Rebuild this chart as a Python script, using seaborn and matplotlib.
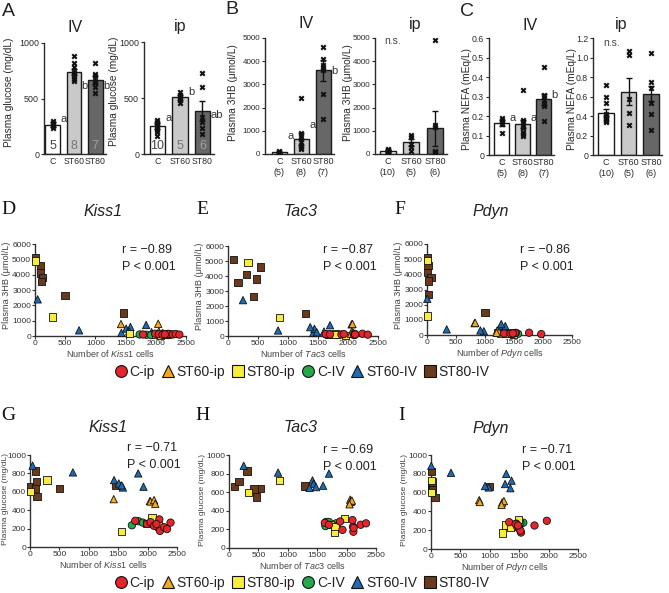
import matplotlib
matplotlib.use('Agg')
import matplotlib.pyplot as plt
from matplotlib.lines import Line2D
import seaborn as sns
import pandas as pd

# ---------------- top row: bar data ----------------
groups = ['C', 'ST60', 'ST80']

glu_iv_mean = [265, 740, 665]
glu_iv_sem = [20, 30, 35]
glu_iv_pts = [[235, 250, 265, 280, 295],
              [880, 820, 780, 740, 720, 700, 680, 660],
              [820, 720, 700, 660, 640, 600, 550]]
glu_ip_mean = [250, 505, 385]
glu_ip_sem = [25, 20, 90]
glu_ip_pts = [[300, 290, 280, 270, 255, 245, 230, 215, 200, 160],
              [550, 530, 505, 480, 455],
              [720, 600, 330, 290, 230, 180]]

hb_iv_mean = [80, 650, 3600]
hb_iv_sem = [20, 250, 450]
hb_iv_pts = [[130, 100, 80, 60, 40],
             [2400, 900, 750, 650, 500, 350, 250, 200],
             [4600, 4080, 3850, 3750, 3600, 2600, 1500]]
hb_ip_mean = [130, 500, 1100]
hb_ip_sem = [40, 150, 770]
hb_ip_pts = [[200, 180, 160, 150, 130, 110, 100, 80, 70, 50],
             [800, 750, 450, 300, 150],
             [4900, 1250, 1150, 150, 100, 50]]

nefa_iv_mean = [0.165, 0.16, 0.285]
nefa_iv_sem = [0.015, 0.02, 0.03]
nefa_iv_pts = [[0.19, 0.18, 0.17, 0.16, 0.115],
               [0.335, 0.18, 0.17, 0.15, 0.14, 0.12, 0.11, 0.10],
               [0.45, 0.31, 0.30, 0.28, 0.26, 0.25, 0.175]]
nefa_ip_mean = [0.435, 0.65, 0.63]
nefa_ip_sem = [0.04, 0.14, 0.08]
nefa_ip_pts = [[0.72, 0.60, 0.53, 0.42, 0.40, 0.38, 0.37, 0.36, 0.35, 0.34],
               [1.07, 1.03, 0.57, 0.43, 0.31],
               [1.05, 0.75, 0.69, 0.53, 0.42, 0.26]]

n_iv = ['5', '8', '7']
n_ip = ['10', '5', '6']

# ---------------- scatter data, one value per animal ----------------
cip_kiss1 = [1790, 1990, 2050, 2110, 2200, 2210, 2280, 2330, 2390, 2150]
cip_tac3 = [1890, 2240, 1630, 2110, 2100, 2115, 2120, 1930, 2330, 1700]
cip_pdyn = [1330, 1760, 1450, 1470, 1970, 1530, 1500, 1520, 1440, 1480]
cip_hb = [100, 150, 120, 80, 60, 140, 100, 130, 90, 110]
cip_glu = [285, 250, 270, 230, 300, 175, 215, 195, 265, 250]

st60ip_kiss1 = [1424, 2040, 2050, 2110, 2130]
st60ip_tac3 = [2060, 2075, 2065, 2090, 2050]
st60ip_pdyn = [820, 830, 1210, 1240, 1200]
st60ip_hb = [780, 800, 300, 200, 150]
st60ip_glu = [520, 500, 495, 510, 470]

st80ip_kiss1 = [6, 290, 1560, 1990, 2073, 2187]
st80ip_tac3 = [335, 854, 1790, 1727, 1960, 1801]
st80ip_pdyn = [5, 5, 1220, 1275, 1486, 1350]
st80ip_hb = [4900, 1250, 150, 80, 50, 120]
st80ip_glu = [600, 727, 171, 255, 316, 229]

civ_kiss1 = [1733, 1846, 1920, 2113, 2158]
civ_tac3 = [1640, 1650, 1820, 1830, 1700]
civ_pdyn = [1480, 1570, 1450, 1500, 1520]
civ_hb = [100, 80, 60, 90, 120]
civ_glu = [236, 280, 265, 236, 280]

st60iv_kiss1 = [44, 730, 1430, 1510, 1580, 1840, 1930, 1560]
st60iv_tac3 = [250, 835, 1420, 1440, 1370, 1700, 1480, 1600]
st60iv_pdyn = [5, 340, 1370, 1260, 1350, 1280, 980, 920]
st60iv_hb = [2390, 370, 200, 480, 590, 720, 250, 300]
st60iv_glu = [884, 811, 727, 691, 647, 800, 655, 670]

st80iv_kiss1 = [11, 94, 94, 120, 111, 498, 1460]
st80iv_tac3 = [90, 540, 305, 470, 168, 425, 1295]
st80iv_pdyn = [10, 15, 10, 70, 30, 25, 1000]
st80iv_hb = [5100, 4600, 4100, 3800, 3550, 2650, 1490]
st80iv_glu = [658, 640, 827, 548, 712, 633, 668]

group_names = ['C-ip', 'ST60-ip', 'ST80-ip', 'C-IV', 'ST60-IV', 'ST80-IV']
group_colors = ['#e8242b', '#f4a81d', '#f6ee3b', '#23a94a', '#1c6cb5', '#6a3a1e']
group_markers = ['o', '^', 's', 'o', '^', 's']

r_hb = ['\u22120.89', '\u22120.87', '\u22120.86']
r_glu = ['\u22120.71', '\u22120.69', '\u22120.71']
genes = ['Kiss1', 'Tac3', 'Pdyn']

sns.set_style('ticks')
plt.rcParams['font.family'] = ['Liberation Sans', 'DejaVu Sans']
plt.rcParams['mathtext.fontset'] = 'custom'
plt.rcParams['mathtext.it'] = 'Liberation Sans:italic'
plt.rcParams['mathtext.rm'] = 'Liberation Sans'

W, H = 669, 593
fig = plt.figure(figsize=(W / 100, H / 100), dpi=100)
INK = '#2a2a2a'


def px_axes(x0, x1, y0, y1):
    return fig.add_axes([x0 / W, 1 - y1 / H, (x1 - x0) / W, (y1 - y0) / H])


def ftext(x, y, s, **kw):
    return fig.text(x / W, 1 - y / H, s, **kw)


def place_ylabel(ax, box, right_px, fy):
    x0, x1 = box[0], box[1]
    ax.yaxis.set_label_coords((right_px - x0) / (x1 - x0), fy)


def bar_panel(box, xleft, means, sems, pts, top, yticks, ylabels, ylabel, lab_x, lab_y,
              xlabels, letters, letter_y, counts=None, ns=None, yfs=7, tfs=6.5):
    ax = px_axes(*box)
    sns.barplot(x=groups, y=means, hue=groups, palette=['white', '#c9c9c9', '#676767'],
                legend=False, width=0.68, edgecolor='#1a1a1a', linewidth=1,
                errorbar=None, ax=ax, zorder=2)
    ax.errorbar(range(3), means, yerr=sems, fmt='none', ecolor='#111',
                elinewidth=1, capsize=2, capthick=1, zorder=3)
    long = pd.DataFrame({'grp': [g for g, v in zip(groups, pts) for _ in v],
                         'val': [x for v in pts for x in v]})
    sns.stripplot(data=long, x='grp', y='val', order=groups, jitter=False,
                  marker='X', color='#111', size=4.3, linewidth=0, ax=ax, zorder=4)
    ax.set_xlim(xleft, 2.5)
    ax.set_ylim(0, top)
    ax.set_yticks(yticks)
    ax.set_yticklabels(ylabels)
    ax.set_xticks(range(3))
    ax.set_xticklabels(xlabels, linespacing=1.15)
    ax.set_xlabel('')
    ax.set_ylabel(ylabel, fontsize=7.3, color=INK)
    place_ylabel(ax, box, lab_x, lab_y)
    ax.tick_params(axis='y', length=2.5, width=0.8, pad=1, labelsize=yfs, colors=INK)
    ax.tick_params(axis='x', length=0, pad=2.5, labelsize=tfs, colors=INK)
    sns.despine(ax=ax)
    for s in ['left', 'bottom']:
        ax.spines[s].set_linewidth(1)
        ax.spines[s].set_color(INK)
    for i, (lt, ly) in enumerate(zip(letters, letter_y)):
        ax.text(i + 0.36, ly, lt, fontsize=8, color='#333', ha='left', va='center')
    if counts:
        for i, (c, col) in enumerate(zip(counts, ['#444', '#777', '#a0a0a0'])):
            ax.text(i, top * 0.015, c, ha='center', va='bottom', fontsize=9, color=col)
    if ns:
        ax.text(ns[0], ns[1], 'n.s.', ha='center', va='center', fontsize=7.5, color='#444')
    return ax


# ---- A ----
bar_panel((44, 106, 43, 154), -0.4, glu_iv_mean, glu_iv_sem, glu_iv_pts, 1000,
          [0, 500, 1000], ['0', '500', '1000'], 'Plasma glucose (mg/dL)', 14, 0.56,
          groups, ['a', 'b', 'b'], [315, 612, 612], counts=n_iv, yfs=6.4, tfs=6.3)
bar_panel((144, 213.7, 42, 154), -0.6, glu_ip_mean, glu_ip_sem, glu_ip_pts, 1000,
          [0, 500, 1000], ['0', '500', '1000'], 'Plasma glucose (mg/dL)', 119, 0.56,
          groups, ['a', 'b', 'ab'], [319, 556, 348], counts=n_ip, yfs=6.4, tfs=6.3)

# ---- B ----
hb_ticks = [0, 1000, 2000, 3000, 4000, 5000]
bar_panel((265, 334.3, 38, 154), -0.65, hb_iv_mean, hb_iv_sem, hb_iv_pts, 5000,
          hb_ticks, [str(t) for t in hb_ticks], 'Plasma 3HB (\u03bcmol/L)', 238, 0.53,
          [f'{g}\n({n})' for g, n in zip(groups, n_iv)],
          ['a', 'a', 'b'], [790, 1250, 3590], yfs=5.8)
bar_panel((375, 446.7, 38, 154), -0.55, hb_ip_mean, hb_ip_sem, hb_ip_pts, 5000,
          hb_ticks, [str(t) for t in hb_ticks], 'Plasma 3HB (\u03bcmol/L)', 353, 0.53,
          [f'{g}\n({n})' for g, n in zip(groups, n_ip)],
          [], [], ns=(0.2, 4880), yfs=5.8)

# ---- C ----
nefa_iv_ticks = [0, 0.1, 0.2, 0.3, 0.4, 0.5, 0.6]
nefa_ip_ticks = [0, 0.2, 0.4, 0.6, 0.8, 1.0, 1.2]
bar_panel((489, 554.1, 38, 155), -0.6, nefa_iv_mean, nefa_iv_sem, nefa_iv_pts, 0.6,
          nefa_iv_ticks, ['0'] + [f'{t:.1f}' for t in nefa_iv_ticks[1:]],
          'Plasma NEFA (mEq/L)', 472, 0.48,
          [f'{g}\n({n})' for g, n in zip(groups, n_iv)],
          ['a', 'a', 'b'], [0.188, 0.188, 0.308], yfs=6.3)
bar_panel((593, 662.3, 38, 155), -0.58, nefa_ip_mean, nefa_ip_sem, nefa_ip_pts, 1.2,
          nefa_ip_ticks, ['0'] + [f'{t:.1f}' for t in nefa_ip_ticks[1:]],
          'Plasma NEFA (mEq/L)', 577, 0.48,
          [f'{g}\n({n})' for g, n in zip(groups, n_ip)],
          [], [], ns=(0.25, 1.15), yfs=6.3)

for x, y, t in [(75, 27, 'IV'), (180, 27, 'ip'), (306, 23, 'IV'), (415, 24, 'ip'),
                (530, 25, 'IV'), (621, 25, 'ip')]:
    ftext(x, y, t, fontsize=11.5, ha='center', va='center', color='#222')
for x, y, t in [(8, 12, 'A'), (232, 10, 'B'), (467, 12, 'C')]:
    ftext(x, y, t, fontsize=14, ha='center', va='center', color='#222')

# ---------------- scatter panels ----------------
frames = []
cols = ['kiss1', 'tac3', 'pdyn', 'hb', 'glu']
for name, vals in zip(group_names, [
        (cip_kiss1, cip_tac3, cip_pdyn, cip_hb, cip_glu),
        (st60ip_kiss1, st60ip_tac3, st60ip_pdyn, st60ip_hb, st60ip_glu),
        (st80ip_kiss1, st80ip_tac3, st80ip_pdyn, st80ip_hb, st80ip_glu),
        (civ_kiss1, civ_tac3, civ_pdyn, civ_hb, civ_glu),
        (st60iv_kiss1, st60iv_tac3, st60iv_pdyn, st60iv_hb, st60iv_glu),
        (st80iv_kiss1, st80iv_tac3, st80iv_pdyn, st80iv_hb, st80iv_glu)]):
    d = pd.DataFrame(dict(zip(cols, vals)))
    d['group'] = name
    frames.append(d)
# draw IV groups first so the ip groups sit on top
df = pd.concat(frames[::-1], ignore_index=True)

palette = dict(zip(group_names, group_colors))
markers = dict(zip(group_names, group_markers))


def scatter_panel(box, gene, ycol, top, yticks, ylabel, lab_x, lab_y, lab_fs):
    ax = px_axes(*box)
    sns.scatterplot(data=df, x=gene.lower(), y=ycol, hue='group', style='group',
                    palette=palette, markers=markers, s=28, edgecolor='#111',
                    linewidth=0.6, legend=False, ax=ax, clip_on=False, zorder=3)
    ax.set_xlim(0, 2500)
    ax.set_ylim(0, top)
    ax.set_xticks([0, 500, 1000, 1500, 2000, 2500])
    ax.set_yticks(yticks)
    ax.set_xlabel('Number of $\\mathit{' + gene + '}$ cells', fontsize=6.5,
                  color='#444', labelpad=1)
    ax.set_ylabel(ylabel, fontsize=lab_fs, color='#444')
    place_ylabel(ax, box, lab_x, lab_y)
    ax.tick_params(length=2, width=0.8, pad=0.8, labelsize=6, colors='#333')
    sns.despine(ax=ax)
    for s in ['left', 'bottom']:
        ax.spines[s].set_linewidth(1)
        ax.spines[s].set_color('#333')
    return ax


hb_boxes = [(35, 186, 244, 336), (228, 378, 246, 336), (427, 572, 244, 335)]
glu_boxes = [(30, 177, 455, 547), (229, 376, 455, 548), (431, 578, 455, 549)]
hb_lab_x = [11, 204, 403]
glu_lab_x = [9, 206, 408]
hb_txt = [(122, 250), (323, 250), (520, 250)]
glu_txt = [(127, 448), (323, 450), (522, 450)]
title_x = [103, 301, 491]

for i, gene in enumerate(genes):
    scatter_panel(hb_boxes[i], gene, 'hb', 6000, range(0, 6001, 1000),
                  'Plasma 3HB (\u03bcmol/L)', hb_lab_x[i], 0.55, 6.6)
    scatter_panel(glu_boxes[i], gene, 'glu', 1000, range(0, 1001, 200),
                  'Plasma glucose (mg/dL)', glu_lab_x[i], 0.52, 6.1)
    ftext(title_x[i], 212, gene, fontsize=11.5, style='italic', ha='center',
          va='center', color='#222')
    ftext(title_x[i] + (5 if i == 0 else 0), 428, gene, fontsize=11.5, style='italic',
          ha='center', va='center', color='#222')
    x, y = hb_txt[i]
    ftext(x, y, 'r = ' + r_hb[i], fontsize=9, va='center', color='#222')
    ftext(x, y + 17, 'P < 0.001', fontsize=9, va='center', color='#222')
    x, y = glu_txt[i]
    ftext(x, y, 'r = ' + r_glu[i], fontsize=9, va='center', color='#222')
    ftext(x, y + 17, 'P < 0.001', fontsize=9, va='center', color='#222')

for x, y, t in [(8, 209, 'D'), (202, 210, 'E'), (400, 209, 'F'),
                (8, 416, 'G'), (203, 416, 'H'), (402, 416, 'I')]:
    ftext(x, y, t, fontsize=14, family='Liberation Serif', ha='center', va='center',
          color='#111')

handles = [Line2D([], [], linestyle='none', marker=m, markersize=8.5, markerfacecolor=c,
                  markeredgecolor='#111', markeredgewidth=0.8)
           for m, c in zip(group_markers, group_colors)]
for ly in [372, 583]:
    fig.legend(handles, group_names, loc='center', bbox_to_anchor=(302 / W, 1 - ly / H),
               ncol=6, frameon=False, fontsize=10, handlelength=0.9, handletextpad=0.2,
               columnspacing=0.45, borderpad=0, labelcolor='#222')

fig.savefig('out.png', dpi=100)
